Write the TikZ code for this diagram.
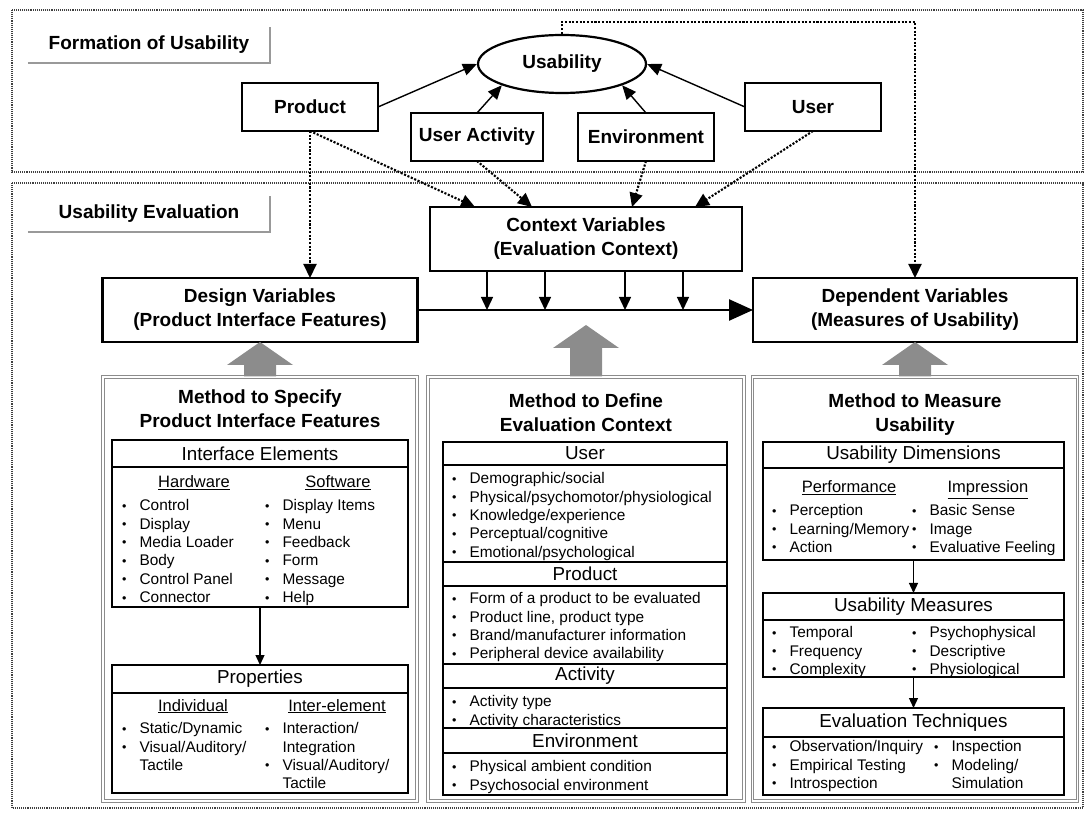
\documentclass[tikz,border=0pt]{standalone}
\usepackage{fontspec}
\setmainfont{Liberation Sans}
\usetikzlibrary{positioning,calc,shapes.geometric,arrows.meta}

\newcommand{\bigbf}{\fontsize{19}{24}\selectfont\bfseries}
\newcommand{\hdfont}{\fontsize{18.8}{22}\selectfont}
\newcommand{\subfont}{\fontsize{16.5}{20}\selectfont}
\newcommand{\itfont}{\fontsize{15.4}{18.4}\selectfont}
\newcommand{\bl}{\raisebox{0.6pt}{\fontsize{12.5}{12.5}\selectfont\textbullet}\hspace{13pt}}
\newcommand{\fatarrow}[2]{%
  \fill[fatgray] ($(#1)+(-16,0)$) -- ($(#2)+(-16,-23)$) -- ($(#2)+(-33,-23)$) -- (#2)
    -- ($(#2)+(33,-23)$) -- ($(#2)+(16,-23)$) -- ($(#1)+(16,0)$) -- cycle;}

\tikzset{frame/.style={draw=black!75, densely dotted, line width=1.1pt},
    shadowline/.style={draw=black!40, line width=2.2pt},
    framelabel/.style={font=\bigbf, minimum width=242pt, minimum height=36pt, inner sep=0pt},
    varbox/.style={draw, line width=2.2pt, font=\bigbf, align=center, inner sep=0pt, outer sep=0pt},
    solidarrow/.style={line width=1.4pt, -{Triangle[length=14pt,width=12pt]}},
    dotarrow/.style={line width=2.1pt, dash pattern=on 2.1pt off 1.6pt, -{Triangle[length=14pt,width=13pt]}},
    ctxarrow/.style={line width=1.4pt, -{Triangle[length=13pt,width=12pt]}},
    fatgray/.style={fill=black!45},
    panel/.style={draw=black!45, double=white, double distance=1.2pt, line width=1.1pt, inner sep=0pt},
    paneltitle/.style={font=\bigbf, align=center, inner sep=0pt},
    hdbox/.style={draw, line width=1.3pt, font=\hdfont, inner sep=0pt, outer sep=0pt},
    bodybox/.style={draw, line width=1.3pt, inner sep=0pt, outer sep=0pt},
    sublbl/.style={font=\subfont, inner sep=0pt, anchor=base},
    itemlist/.style={font=\itfont, inner sep=0pt, anchor=north west, align=left},
    innerarrow/.style={line width=1.3pt, -{Triangle[length=10pt,width=9pt]}},
    }

\begin{document}
\begin{tikzpicture}[x=1pt,y=1pt]
	\useasboundingbox (0,0) rectangle (1085,815);
	\draw[frame] (12,805) rectangle (1083,643);
	\draw[frame] (12,632) rectangle (1083,7);
	\node[framelabel] (formlbl) at (149,770) {Formation of Usability};
	\draw[shadowline] (formlbl.south west) -- (formlbl.south east) -- (formlbl.north east);
	\node[framelabel] (evallbl) at (149,601) {Usability Evaluation};
	\draw[shadowline] (evallbl.south west) -- (evallbl.south east) -- (evallbl.north east);

	% formation of usability
	\node[draw, ellipse, line width=2.2pt, minimum width=168pt, minimum height=58pt, font=\bigbf] (usab) at (562,751) {Usability};
	\node[varbox, minimum width=136pt, minimum height=48pt] (prod) at (310,708) {Product};
	\node[varbox, minimum width=132pt, minimum height=48pt] (uact) at (477,678) {User Activity};
	\node[varbox, minimum width=136pt, minimum height=48pt] (env) at (646,678) {Environment};
	\node[varbox, minimum width=136pt, minimum height=48pt] (user) at (813,708) {User};
	\draw[solidarrow] (prod.east) -- (usab.west);
	\draw[solidarrow] (uact.north) -- (usab.south west);
	\draw[solidarrow] (env.north) -- (usab.south east);
	\draw[solidarrow] (user.west) -- (usab.east);

	% evaluation variables
	\node[varbox, minimum width=312pt, minimum height=64pt] (ctx) at (586,576) {Context Variables\\(Evaluation Context)};
	\node[varbox, minimum width=315pt, minimum height=64pt] (design) at (260,505) {Design Variables\\(Product Interface Features)};
	\node[varbox, minimum width=324pt, minimum height=64pt] (dep) at (915,505) {Dependent Variables\\(Measures of Usability)};
	\draw[dotarrow] (prod.south) -- (prod.south |- design.north);
	\draw[dotarrow] (prod.south) -- ($(ctx.north west)+(45,0)$);
	\draw[dotarrow] (uact.south) -- ($(ctx.north west)+(102,0)$);
	\draw[dotarrow] (env.south) -- ($(ctx.north west)+(202,0)$);
	\draw[dotarrow] (user.south) -- ($(ctx.north west)+(265,0)$);
	\draw[dotarrow] (usab.north) -- ++(0,12) -| (dep.north);
	\draw[line width=2.6pt, -{Triangle[length=24pt,width=21pt]}] (design.east) -- (dep.west);
	\foreach \x [count=\i] in {487,545,625,683} {
		\coordinate (tap\i) at (\x,505);
		\draw[ctxarrow] (ctx.south -| tap\i) -- (tap\i);
	}

	% method panels
	\node[panel, minimum width=314pt, minimum height=424pt] (lpanel) at (260,226) {};
	\node[panel, minimum width=316pt, minimum height=424pt] (mpanel) at (586,226) {};
	\node[panel, minimum width=325pt, minimum height=424pt] (rpanel) at (915,226) {};
	\coordinate (midtip) at (586,490);
	\fatarrow{lpanel.north}{design.south}
	\fatarrow{mpanel.north}{midtip}
	\fatarrow{rpanel.north}{dep.south}
	\node[paneltitle, below=13pt of lpanel.north] (ltitle) {Method to Specify\\Product Interface Features};
	\node[paneltitle, below=17pt of mpanel.north] (mtitle) {Method to Define\\Evaluation Context};
	\node[paneltitle, below=17pt of rpanel.north] (rtitle) {Method to Measure\\Usability};

	% left panel
	\node[hdbox, anchor=north, minimum width=296pt, minimum height=27pt] (ifelhd) at (260,375) {Interface Elements};
	\node[bodybox, below=0pt of ifelhd, minimum width=296pt, minimum height=140pt] (ifel) {};
	\node[sublbl] (hwlbl) at (194,327) {\underline{Hardware}};
	\node[sublbl] (swlbl) at (338,327) {\underline{Software}};
	\node[itemlist] (hwlist) at (122,315.7) {\bl Control\\\bl Display\\\bl Media Loader\\\bl Body\\\bl Control Panel\\\bl Connector};
	\node[itemlist] (swlist) at (265,315.7) {\bl Display Items\\\bl Menu\\\bl Feedback\\\bl Form\\\bl Message\\\bl Help};
	\node[hdbox, anchor=north, minimum width=296pt, minimum height=28pt] (prophd) at (260,150) {Properties};
	\node[bodybox, below=0pt of prophd, minimum width=296pt, minimum height=100pt] (prop) {};
	\draw[innerarrow] (ifel.south) -- (prophd.north);
	\node[sublbl] (indlbl) at (193,104) {\underline{Individual}};
	\node[sublbl] (interlbl) at (337,104) {\underline{Inter-element}};
	\node[itemlist] (indlist) at (122,92.7) {\bl Static/Dynamic\\\bl Visual/Auditory/\\\phantom{\bl}Tactile};
	\node[itemlist] (interlist) at (265,92.7) {\bl Interaction/\\\phantom{\bl}Integration\\\bl Visual/Auditory/\\\phantom{\bl}Tactile};

	% middle panel
	\node[hdbox, anchor=north, minimum width=284pt, minimum height=23pt] (usrhd) at (585,373) {User};
	\node[bodybox, below=0pt of usrhd, minimum width=284pt, minimum height=97pt] (usr) {};
	\node[hdbox, below=0pt of usr, minimum width=284pt, minimum height=24pt] (prdhd) {Product};
	\node[bodybox, below=0pt of prdhd, minimum width=284pt, minimum height=78pt] (prd) {};
	\node[hdbox, below=0pt of prd, minimum width=284pt, minimum height=24pt] (acthd) {Activity};
	\node[bodybox, below=0pt of acthd, minimum width=284pt, minimum height=40pt] (act) {};
	\node[hdbox, below=0pt of act, minimum width=284pt, minimum height=25pt] (envhd) {Environment};
	\node[bodybox, below=0pt of envhd, minimum width=284pt, minimum height=42pt] (envb) {};
	\node[itemlist] (usrlist) at (452,342.7) {\bl Demographic/social\\\bl Physical/psychomotor/physiological\\\bl Knowledge/experience\\\bl Perceptual/cognitive\\\bl Emotional/psychological};
	\node[itemlist] (prdlist) at (452,222.7) {\bl Form of a product to be evaluated\\\bl Product line, product type\\\bl Brand/manufacturer information\\\bl Peripheral device availability};
	\node[itemlist] (actlist) at (452,119.7) {\bl Activity type\\\bl Activity characteristics};
	\node[itemlist] (envlist) at (452,54.7) {\bl Physical ambient condition\\\bl Psychosocial environment};

	% right panel
	\node[hdbox, anchor=north, minimum width=301pt, minimum height=26pt] (udimhd) at (913.5,373) {Usability Dimensions};
	\node[bodybox, below=0pt of udimhd, minimum width=301pt, minimum height=92pt] (udim) {};
	\node[sublbl] (perflbl) at (849,322) {\underline{Performance}};
	\node[sublbl] (impLbl) at (988,322) {\underline{Impression}};
	\node[itemlist] (perflist) at (772,310.7) {\bl Perception\\\bl Learning/Memory\\\bl Action};
	\node[itemlist] (implist) at (912,310.7) {\bl Basic Sense\\\bl Image\\\bl Evaluative Feeling};
	\node[hdbox, anchor=north, minimum width=301pt, minimum height=27pt] (umeashd) at (913.5,222) {Usability Measures};
	\node[bodybox, below=0pt of umeashd, minimum width=301pt, minimum height=57pt] (umeas) {};
	\node[itemlist] (umeasl) at (772,188.7) {\bl Temporal\\\bl Frequency\\\bl Complexity};
	\node[itemlist] (umeasr) at (912,188.7) {\bl Psychophysical\\\bl Descriptive\\\bl Physiological};
	\node[hdbox, anchor=north, minimum width=301pt, minimum height=29pt] (evtechhd) at (913.5,107) {Evaluation Techniques};
	\node[bodybox, below=0pt of evtechhd, minimum width=301pt, minimum height=58pt] (evtech) {};
	\node[itemlist] (evtechl) at (772,74.7) {\bl Observation/Inquiry\\\bl Empirical Testing\\\bl Introspection};
	\node[itemlist] (evtechr) at (934,74.7) {\bl Inspection\\\bl Modeling/\\\phantom{\bl}Simulation};
	\draw[innerarrow] (udim.south) -- (umeashd.north);
	\draw[innerarrow] (umeas.south) -- (evtechhd.north);
\end{tikzpicture}
\end{document}
